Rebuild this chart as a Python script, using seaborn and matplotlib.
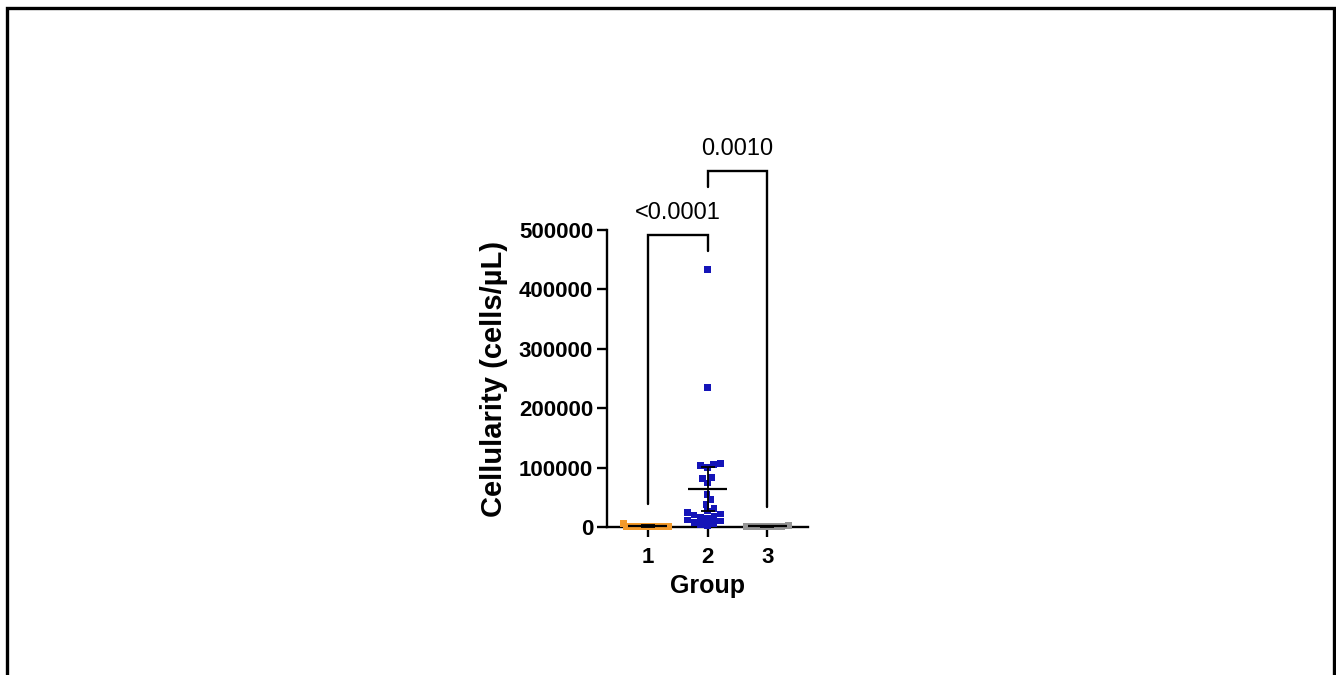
import numpy as np
import pandas as pd
import matplotlib
matplotlib.use("Agg")
import matplotlib.pyplot as plt
import seaborn as sns
from matplotlib.patches import Rectangle

# ---- data ----
groups = ["1", "2", "3"]
group1 = [500, 800, 1200, 300, 6000, 900, 600, 1100]
group2 = [433000, 235000, 107000, 105000, 103000, 100000, 83000, 82000,
          74000, 55000, 46000, 38000, 31000, 27000, 24000, 22000, 20000,
          18000, 16000, 14000, 12000, 10000, 8000, 6000, 4000, 2000]
group3 = [300, 500, 800, 1000, 2500, 700, 1200]
yticks = [0, 100000, 200000, 300000, 400000, 500000]
pvalues = ["<0.0001", "0.0010"]
comparisons = [(0, 1), (1, 2)]
colors = ["#F39A2B", "#1414B8", "#959595"]

df = pd.DataFrame({
    "Group": ["1"] * len(group1) + ["2"] * len(group2) + ["3"] * len(group3),
    "value": group1 + group2 + group3,
})

sns.set_theme(style="ticks")
plt.rcParams["font.family"] = ["Liberation Sans", "DejaVu Sans"]

fig = plt.figure(figsize=(13.36, 6.75), dpi=100)
ax = fig.add_axes([607 / 1336, 1 - 527 / 675, 201 / 1336, 297 / 675])

sns.swarmplot(data=df, x="Group", y="value", hue="Group", palette=colors,
              order=groups, hue_order=groups, marker="s", size=4.8,
              linewidth=0, legend=False, ax=ax, zorder=3)
for coll in ax.collections:
    coll.set_clip_on(False)

# mean and 95% CI
T_CRIT = 2.06
for i, vals in enumerate([group1, group2, group3]):
    v = np.asarray(vals, dtype=float)
    m = v.mean()
    ci = T_CRIT * v.std(ddof=1) / np.sqrt(len(v))
    ax.plot([i - 0.33, i + 0.33], [m, m], color="black", lw=1.6,
            zorder=5, clip_on=False, solid_capstyle="butt")
    ax.errorbar([i], [m], yerr=[[ci], [ci]], fmt="none", ecolor="black",
                elinewidth=1.3, capsize=5, capthick=1.3, zorder=4,
                clip_on=False)

ax.set_xlim(-0.68, 2.68)
ax.set_ylim(0, 500000)
ax.set_yticks(yticks)
ax.set_yticklabels([str(t) for t in yticks])
sns.despine(ax=ax)
for s in ["left", "bottom"]:
    ax.spines[s].set_linewidth(1.7)
    ax.spines[s].set_color("black")
ax.tick_params(axis="both", length=7, width=1.7, color="black",
               labelsize=16, pad=3, labelcolor="black")
ax.tick_params(axis="x", pad=7.5)
for lab in ax.get_xticklabels() + ax.get_yticklabels():
    lab.set_fontweight("bold")
ax.set_xlabel("Group", fontsize=18, fontweight="bold", labelpad=4.5,
              color="black")
ax.set_ylabel("Cellularity (cells/µL)", fontsize=21, fontweight="bold",
              labelpad=8, color="black")

# significance brackets
bracket_specs = [
    # (top, left leg bottom, right leg bottom, text y)
    (492000, 38000, 464000, 528000),
    (599000, 572000, 34000, 636000),
]
for (a, b), p, (top, lb, rb, ty) in zip(comparisons, pvalues, bracket_specs):
    ax.plot([a, a, b, b], [lb, top, top, rb], color="black", lw=1.7,
            clip_on=False, solid_joinstyle="miter")
    ax.text((a + b) / 2, ty, p, ha="center", va="center", fontsize=17,
            color="black")

# outer frame (top, left, right visible)
fig.patches.append(Rectangle((7 / 1336, -0.05), 1327 / 1336, 1.05 - 8 / 675,
                             transform=fig.transFigure, fill=False,
                             edgecolor="black", linewidth=2.4))

fig.savefig("out.png", dpi=100)
